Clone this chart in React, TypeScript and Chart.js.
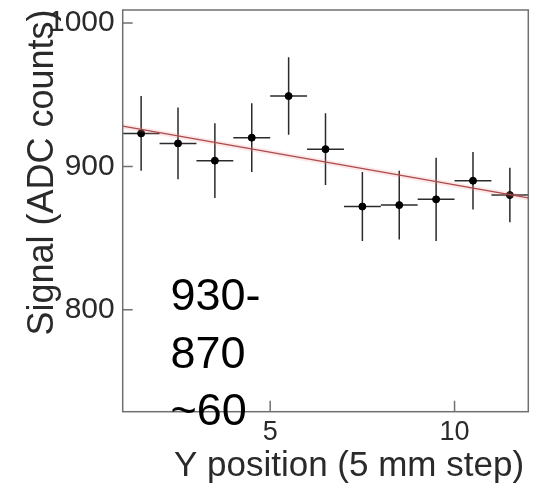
import React, { useEffect, useRef } from 'react';
import { Chart, registerables } from 'chart.js';

Chart.register(...registerables);

// ---- data ----
const positions = [1.5, 2.5, 3.5, 4.5, 5.5, 6.5, 7.5, 8.5, 9.5, 10.5, 11.5];
const signal = [923, 916, 904, 920, 949, 912, 872, 873, 877, 890, 880];
const signalErr = [26, 25, 26, 24, 27, 25, 24, 24, 29, 20, 19];
const positionErr = [0.5, 0.5, 0.5, 0.5, 0.5, 0.5, 0.5, 0.5, 0.5, 0.5, 0.5];
const fitX = [1, 12];
const fitY = [928, 878];
const xTickValues = [5, 10];
const yTickValues = [800, 900, 1000];
const xRange = [1, 12];
const yRange = [729, 1009];
const xTitle = 'Y position (5 mm step)';
const yTitle = 'Signal (ADC counts)';
const annotationLines = ['930-', '870', '~60'];

const FONT = '"Liberation Sans", Arial, Helvetica, sans-serif';

const customPlugin = {
  id: 'rootStyle',
  beforeDatasetsDraw(chart: any) {
    const { ctx } = chart;
    const xs = chart.scales.x;
    const ys = chart.scales.y;
    ctx.save();
    ctx.strokeStyle = '#2b2b2b';
    ctx.lineWidth = 1.5;
    positions.forEach((p, i) => {
      const px = xs.getPixelForValue(p);
      const py = ys.getPixelForValue(signal[i]);
      ctx.beginPath();
      ctx.moveTo(xs.getPixelForValue(p - positionErr[i]), py);
      ctx.lineTo(xs.getPixelForValue(p + positionErr[i]), py);
      ctx.moveTo(px, ys.getPixelForValue(signal[i] + signalErr[i]));
      ctx.lineTo(px, ys.getPixelForValue(signal[i] - signalErr[i]));
      ctx.stroke();
    });
    ctx.restore();
  },
  afterDraw(chart: any) {
    const { ctx, chartArea } = chart;
    const xs = chart.scales.x;
    const ys = chart.scales.y;
    const { left, right, top, bottom } = chartArea;
    ctx.save();
    // frame
    ctx.strokeStyle = '#707070';
    ctx.lineWidth = 1.5;
    ctx.strokeRect(left, top, right - left, bottom - top);
    // inward ticks
    ctx.beginPath();
    yTickValues.forEach((v) => {
      const y = ys.getPixelForValue(v);
      ctx.moveTo(left, y);
      ctx.lineTo(left + 10, y);
    });
    xTickValues.forEach((v) => {
      const x = xs.getPixelForValue(v);
      ctx.moveTo(x, bottom);
      ctx.lineTo(x, bottom - 11);
    });
    ctx.stroke();

    // axis titles
    ctx.fillStyle = '#2a2a2a';
    ctx.font = `35px ${FONT}`;
    ctx.textAlign = 'center';
    ctx.textBaseline = 'alphabetic';
    ctx.fillText(xTitle, 349, 476);

    ctx.save();
    ctx.translate(53, 172.5);
    ctx.rotate(-Math.PI / 2);
    ctx.font = `36px ${FONT}`;
    ctx.fillText(yTitle, 0, 0);
    ctx.restore();

    // annotation
    ctx.fillStyle = '#000';
    ctx.font = `45px ${FONT}`;
    ctx.textAlign = 'left';
    annotationLines.forEach((t, i) => {
      ctx.fillText(t, 170.5, 310 + i * 57.5);
    });
    ctx.restore();
  },
};

export default function App() {
  const ref = useRef<HTMLCanvasElement | null>(null);

  useEffect(() => {
    if (!ref.current) return;
    const chart = new Chart(ref.current, {
      type: 'scatter',
      data: {
        datasets: [
          {
            type: 'line',
            data: fitX.map((x, i) => ({ x, y: fitY[i] })),
            borderColor: 'rgba(240,140,140,0.2)',
            borderWidth: 5,
            pointRadius: 0,
            fill: false,
          } as any,
          {
            type: 'line',
            data: fitX.map((x, i) => ({ x, y: fitY[i] })),
            borderColor: '#9c3a3a',
            borderWidth: 1.3,
            pointRadius: 0,
            fill: false,
          } as any,
          {
            data: positions.map((x, i) => ({ x, y: signal[i] })),
            backgroundColor: '#000',
            borderColor: '#000',
            pointRadius: 3.5,
            pointHoverRadius: 3.5,
          },
        ],
      },
      options: {
        responsive: false,
        animation: false,
        events: [],
        layout: { padding: { top: 10, right: 7.7, left: 0, bottom: 0 } },
        plugins: {
          legend: { display: false },
          tooltip: { enabled: false },
          title: { display: false },
        },
        scales: {
          x: {
            type: 'linear',
            min: xRange[0],
            max: xRange[1],
            grid: { display: false, drawTicks: false },
            border: { display: false },
            afterFit: (s: any) => {
              s.height = 73.3;
              s.paddingLeft = 0;
              s.paddingRight = 0;
              s.paddingTop = 0;
              s.paddingBottom = 0;
            },
            afterBuildTicks: (s: any) => {
              s.ticks = xTickValues.map((value) => ({ value }));
            },
            ticks: {
              padding: 5,
              color: '#2a2a2a',
              font: { family: FONT, size: 27 },
              maxRotation: 0,
              autoSkip: false,
              callback: (v: any) => String(v),
            },
          },
          y: {
            type: 'linear',
            min: yRange[0],
            max: yRange[1],
            grid: { display: false, drawTicks: false },
            border: { display: false },
            afterFit: (s: any) => {
              s.width = 122.7;
              s.paddingLeft = 0;
              s.paddingRight = 0;
              s.paddingTop = 0;
              s.paddingBottom = 0;
            },
            afterBuildTicks: (s: any) => {
              s.ticks = yTickValues.map((value) => ({ value }));
            },
            ticks: {
              padding: 8,
              color: '#2a2a2a',
              font: { family: FONT, size: 30 },
              autoSkip: false,
              callback: (v: any) => String(v),
            },
          },
        },
      },
      plugins: [customPlugin],
    });
    return () => chart.destroy();
  }, []);

  return (
    <div style={{ position: 'absolute', left: 0, top: 0, width: 536, height: 485, background: '#fff' }}>
      <canvas ref={ref} width={536} height={485} />
    </div>
  );
}
